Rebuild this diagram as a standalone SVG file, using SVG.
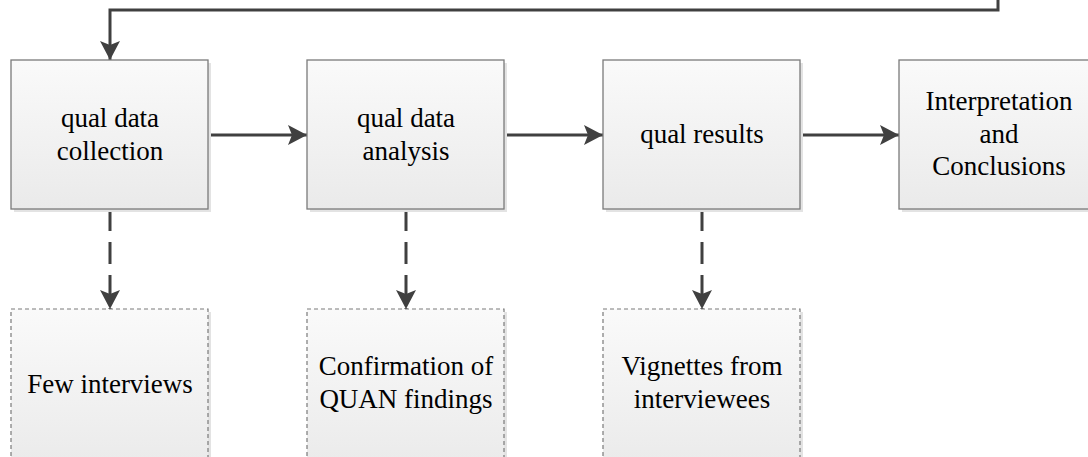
<svg xmlns="http://www.w3.org/2000/svg" width="1088" height="457" viewBox="0 0 1088 457">
<defs>
<linearGradient id="g" x1="0" y1="0" x2="0" y2="1">
<stop offset="0" stop-color="#fafafa"/>
<stop offset="1" stop-color="#eaeaea"/>
</linearGradient>
<marker id="ah" markerUnits="userSpaceOnUse" markerWidth="20" markerHeight="20" refX="19" refY="10" orient="auto" viewBox="0 0 20 20">
<path d="M0,0 L19,10 L0,20 L4,10 z" fill="#404040"/>
</marker>
<style>
.shadow{fill:#e3e3e3}
.box{fill:url(#g);stroke:#7a7a7a;stroke-width:1.3}
.dbox{fill:url(#g);stroke:#7a7a7a;stroke-width:1.2;stroke-dasharray:4,3}
.t{font-family:'Liberation Serif','Times New Roman',serif;font-size:27px;fill:#000;text-anchor:middle}
.c{fill:none;stroke:#404040;stroke-width:3;marker-end:url(#ah)}
.d{stroke-dasharray:22,11}
</style>
</defs>
<g id="connectors">
<path class="c" d="M998,-5 V10 H110 V60"/>
<path class="c" d="M208,135 H307"/>
<path class="c" d="M504,135 H603"/>
<path class="c" d="M800,135 H899"/>
<path class="c d" d="M110,209 V309"/>
<path class="c d" d="M406,209 V309"/>
<path class="c d" d="M702,209 V309"/>
</g>
<g id="n1">
<rect class="shadow" x="14" y="63" width="197" height="149"/>
<rect class="box" x="11" y="60" width="197" height="149"/>
<text class="t" x="110" y="127">qual data</text>
<text class="t" x="110" y="160">collection</text>
</g>
<g id="n2">
<rect class="shadow" x="310" y="63" width="197" height="149"/>
<rect class="box" x="307" y="60" width="197" height="149"/>
<text class="t" x="406" y="127">qual data</text>
<text class="t" x="406" y="160">analysis</text>
</g>
<g id="n3">
<rect class="shadow" x="606" y="63" width="197" height="149"/>
<rect class="box" x="603" y="60" width="197" height="149"/>
<text class="t" x="702" y="143">qual results</text>
</g>
<g id="n4">
<rect class="shadow" x="902" y="63" width="197" height="149"/>
<rect class="box" x="899" y="60" width="197" height="149"/>
<text class="t" x="999" y="110">Interpretation</text>
<text class="t" x="999" y="143">and</text>
<text class="t" x="999" y="175">Conclusions</text>
</g>
<g id="n5">
<rect class="shadow" x="14" y="312" width="197" height="160"/>
<rect class="dbox" x="11" y="309" width="197" height="160"/>
<text class="t" x="110" y="393">Few interviews</text>
</g>
<g id="n6">
<rect class="shadow" x="310" y="312" width="197" height="160"/>
<rect class="dbox" x="307" y="309" width="197" height="160"/>
<text class="t" x="406" y="375">Confirmation of</text>
<text class="t" x="406" y="408">QUAN findings</text>
</g>
<g id="n7">
<rect class="shadow" x="606" y="312" width="197" height="160"/>
<rect class="dbox" x="603" y="309" width="197" height="160"/>
<text class="t" x="702" y="375">Vignettes from</text>
<text class="t" x="702" y="408">interviewees</text>
</g>
</svg>
